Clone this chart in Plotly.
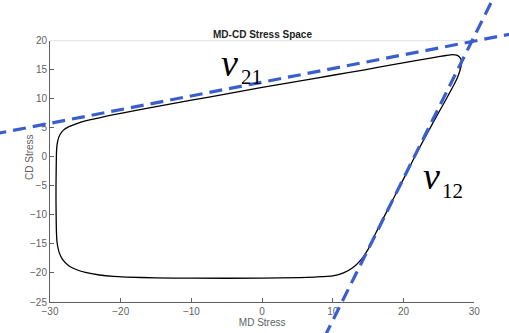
import plotly.graph_objects as go

# ---- data (MD stress, CD stress) ----
curve_md = [-29.15, -29.1, -29.05, -28.9, -28.6, -28.1, -27.4, -26.5, -25.5, -24.4, -22, -20, -15, -10, -5,
            0, 5, 10, 14.3, 19.5, 24, 26.0, 26.9, 27.5, 27.9, 28.15, 28.2, 28.0, 27.5, 26.1, 24.4, 22, 20,
            17, 16.0, 15.0, 14.0, 12.8, 11.5, 10, 7.5, 5.3, 0, -10, -15, -19.2, -21, -23, -25, -26.3, -27.4,
            -28.2, -28.7, -29.0, -29.1, -29.15, -29.15]
curve_cd = [-5, 0, 1.5, 2.8, 3.8, 4.6, 5.15, 5.6, 6.0, 6.35, 7.0, 7.5, 8.65, 9.75, 10.85,
            11.95, 13.0, 14.05, 14.95, 16.1, 17.05, 17.45, 17.6, 17.5, 17.2, 16.7, 16.1, 15.0, 13.3, 10.1,
            6.4, 1.0, -3.8, -10.9, -13.3, -15.9, -17.7, -19.1, -20.0, -20.5, -20.7, -20.8, -20.9, -20.9,
            -20.85, -20.7, -20.6, -20.35, -19.9, -19.4, -18.7, -17.7, -16.5, -14.75, -12.5, -8, -5]

nu21_md = [-38.0, 36.0]
nu21_cd = [3.89, 21.35]
nu12_md = [8.83, 32.96]
nu12_cd = [-31.0, 28.0]

x_ticks = [-30, -20, -10, 0, 10, 20, 30]
y_ticks = [-25, -20, -15, -10, -5, 0, 5, 10, 15, 20]

# ---- layout geometry ----
W, H = 509, 333
PL, PR, PT, PB = 50.0, 474.3, 40.7, 302.0   # plot area in pixels
XR = [-30, 30]
YR = [-25, 20]

xd = [PL / W, PR / W]
yd = [(H - PB) / H, (H - PT) / H]
sx = (XR[1] - XR[0]) / (PR - PL)
sy = (YR[1] - YR[0]) / (PB - PT)
x2r = [XR[0] - PL * sx, XR[1] + (W - PR) * sx]
y2r = [YR[0] - (H - PB) * sy, YR[1] + PT * sy]

axcol = "#5f5f5f"
blue = "#3a5fcd"
font = "Liberation Sans"

fig = go.Figure()
fig.add_trace(go.Scatter(x=curve_md, y=curve_cd, mode="lines",
                         line=dict(color="black", width=1.3, shape="spline", smoothing=0.5),
                         xaxis="x", yaxis="y", showlegend=False, hoverinfo="skip"))
fig.add_trace(go.Scatter(x=nu21_md, y=nu21_cd, mode="lines",
                         line=dict(color=blue, width=3.2, dash="13px,7px"),
                         xaxis="x2", yaxis="y2", showlegend=False, hoverinfo="skip"))
fig.add_trace(go.Scatter(x=nu12_md, y=nu12_cd, mode="lines",
                         line=dict(color=blue, width=3.2, dash="13px,7px"),
                         xaxis="x2", yaxis="y2", showlegend=False, hoverinfo="skip"))

common = dict(showgrid=False, zeroline=False, automargin=False)
fig.update_layout(
    width=W, height=H,
    margin=dict(l=0, r=0, t=0, b=0),
    paper_bgcolor="white", plot_bgcolor="rgba(0,0,0,0)",
    font=dict(family=font, size=10, color=axcol),
    xaxis=dict(domain=xd, range=XR, tickvals=x_ticks, ticks="inside", ticklen=4,
               tickcolor=axcol, showline=True, linecolor=axcol, linewidth=1,
               tickfont=dict(size=10, color=axcol),
               title=dict(text="MD Stress", font=dict(size=10, color=axcol), standoff=2),
               anchor="y", **common),
    yaxis=dict(domain=yd, range=YR, tickvals=y_ticks, ticks="inside", ticklen=4,
               tickcolor=axcol, showline=True, linecolor=axcol, linewidth=1,
               tickfont=dict(size=10, color=axcol),
               anchor="x", **common),
    xaxis2=dict(domain=[0, 1], range=x2r, visible=False, anchor="y2", **common),
    yaxis2=dict(domain=[0, 1], range=y2r, visible=False, anchor="x2", **common),
    title=dict(text="<b>MD-CD Stress Space</b>", x=262.5 / W, y=1 - 34 / H,
               xanchor="center", yanchor="middle", xref="paper", yref="paper",
               font=dict(family=font, size=10, color="#222222")),
)

fig.add_annotation(text="CD Stress", x=30 / W, y=1 - 157 / H, xref="paper", yref="paper",
                   xanchor="center", yanchor="middle", textangle=-90, showarrow=False,
                   font=dict(family=font, size=10, color=axcol))

fig.add_shape(type="line", xref="x domain", yref="y domain", x0=0, x1=1, y0=1, y1=1,
              line=dict(color="#e2e2e2", width=1), layer="below")

serif = "Liberation Serif"
labels = [("<i>ν</i>", 229, 63, 38), ("21", 251, 77, 21),
          ("<i>ν</i>", 431, 176, 38), ("12", 452, 190.5, 21)]
for txt, px, py, fs in labels:
    fig.add_annotation(text=txt, x=px / W, y=1 - py / H, xref="paper", yref="paper",
                       xanchor="center", yanchor="middle", showarrow=False,
                       font=dict(family=serif, size=fs, color="black"))

fig.write_html("out.html")
